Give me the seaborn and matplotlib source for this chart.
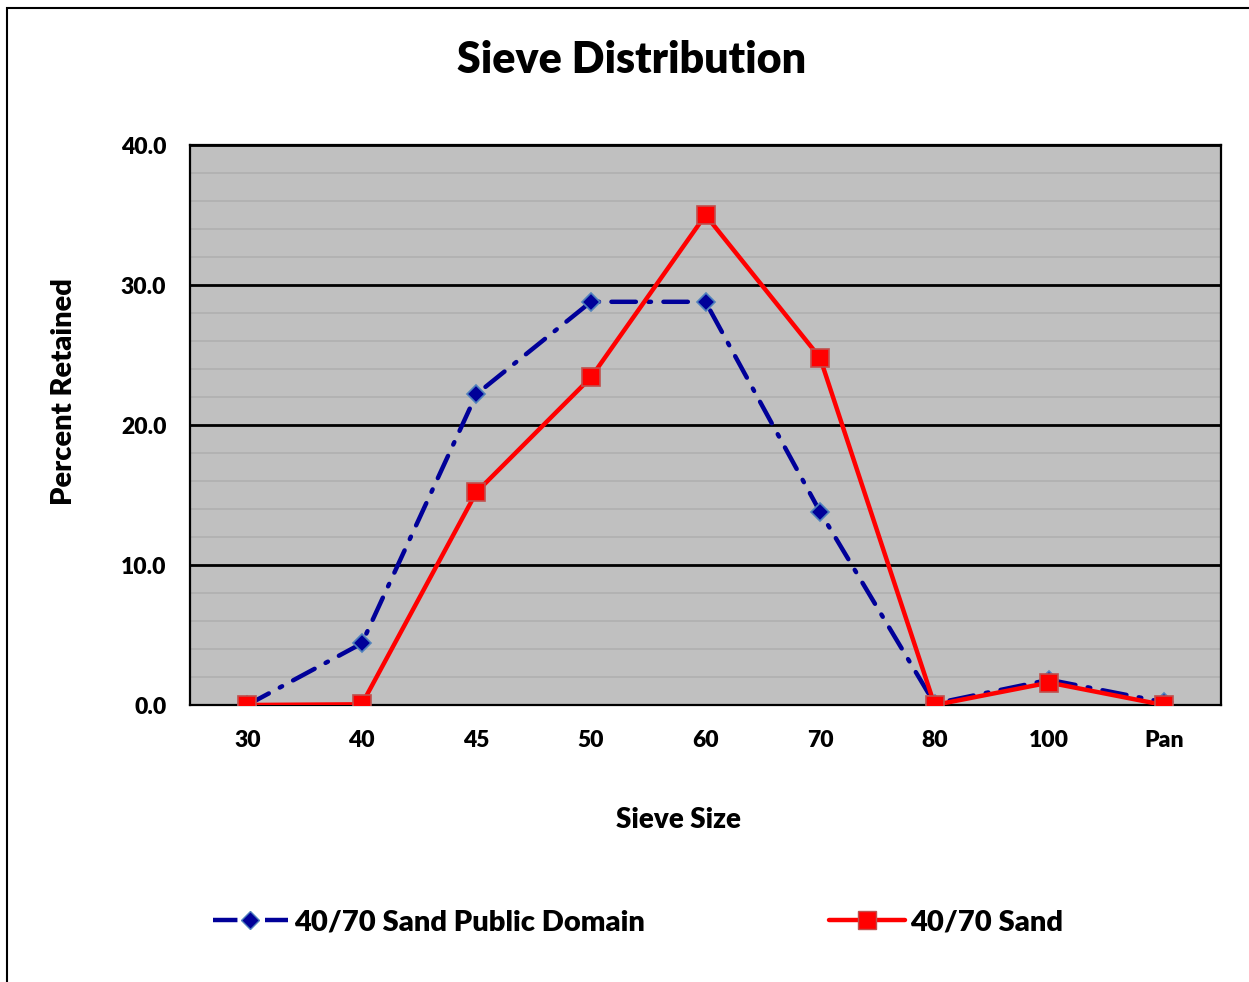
import pandas as pd
import matplotlib.pyplot as plt
import seaborn as sns
from matplotlib.patches import Rectangle
from matplotlib.lines import Line2D

# -------------------------
# Data
# -------------------------
sieve_sizes = ["30", "40", "45", "50", "60", "70", "80", "100", "Pan"]
public_domain = [0.0, 4.4, 22.2, 28.8, 28.8, 13.8, 0.1, 1.8, 0.2]
sand_4070 = [0.0, 0.05, 15.2, 23.4, 35.0, 24.8, 0.0, 1.6, 0.0]
series_names = ["40/70 Sand Public Domain", "40/70 Sand"]

df = pd.DataFrame({
    "sieve": sieve_sizes * 2,
    "pct": public_domain + sand_4070,
    "series": [series_names[0]] * len(sieve_sizes) + [series_names[1]] * len(sieve_sizes),
})

# -------------------------
# Style
# -------------------------
sns.set_style("white")
plt.rcParams["font.family"] = ["Lato", "DejaVu Sans"]
plt.rcParams["font.weight"] = "heavy"
plt.rcParams["text.color"] = "black"
plt.rcParams["xtick.color"] = "black"
plt.rcParams["ytick.color"] = "black"
plt.rcParams["axes.labelcolor"] = "black"
W = "heavy"

fig = plt.figure(figsize=(12.49, 9.82), dpi=100)
ax = fig.add_axes([190 / 1249, 1 - 705 / 982, (1221 - 190) / 1249, (705 - 145) / 982])
ax.set_facecolor("#c0c0c0")

blue = "#000099"
red = "#ff0000"
blue_dash = (0, (5.5, 2.8, 0.6, 2.8))

df_blue = df[df["series"] == series_names[0]]
df_red = df[df["series"] == series_names[1]]

sns.lineplot(data=df_blue, x="sieve", y="pct", ax=ax, color=blue, lw=3.2,
             linestyle=blue_dash, marker="D", markersize=9,
             markerfacecolor=blue, markeredgecolor="#4f81bd", markeredgewidth=1.2,
             sort=False, zorder=3, dash_capstyle="round")
sns.lineplot(data=df_red, x="sieve", y="pct", ax=ax, color=red, lw=3.2,
             marker="s", markersize=13, markerfacecolor=red,
             markeredgecolor="#c0504d", markeredgewidth=1.2,
             sort=False, zorder=4)

# -------------------------
# Axes
# -------------------------
ax.set_xlim(-0.5, len(sieve_sizes) - 0.5)
ax.set_ylim(0, 40)
ax.set_yticks([0, 10, 20, 30, 40])
ax.set_yticklabels([f"{v:.1f}" for v in [0, 10, 20, 30, 40]])
ax.set_yticks(range(0, 41, 2), minor=True)
ax.grid(axis="y", which="minor", color="#b0b0b0", lw=1.2)
ax.grid(axis="y", which="major", color="black", lw=2)
ax.set_axisbelow(True)
ax.tick_params(axis="both", which="both", length=0, labelsize=16.5)
ax.tick_params(axis="x", pad=18)
ax.tick_params(axis="y", pad=17)
for lbl in ax.get_xticklabels() + ax.get_yticklabels():
    lbl.set_fontweight(W)
for sp in ax.spines.values():
    sp.set_color("black")
    sp.set_linewidth(1.6)

ax.set_xlabel("Sieve Size", fontsize=20, fontweight=W)
ax.set_ylabel("Percent Retained", fontsize=21, fontweight=W)
ax.xaxis.set_label_coords((679 - 190) / 1031, -(807 - 705) / 560)
ax.yaxis.set_label_coords(-(190 - 77) / 1031, (705 - 392) / 560)
fig.text(632 / 1249, 1 - 60 / 982, "Sieve Distribution", ha="center", va="center",
         fontsize=31, fontweight=W)

# -------------------------
# Legend
# -------------------------
handles = [
    Line2D([], [], color=blue, lw=3.2, linestyle=blue_dash,
           marker="D", markersize=9, markerfacecolor=blue, markeredgecolor="#4f81bd"),
    Line2D([], [], color=red, lw=3.2, marker="s", markersize=13,
           markerfacecolor=red, markeredgecolor="#c0504d"),
]
fig.legend(handles, series_names, loc="center", bbox_to_anchor=(638 / 1249, 1 - 922 / 982),
           ncol=2, frameon=False, handlelength=2.6, handletextpad=0.2,
           columnspacing=6.3, prop={"weight": W, "size": 21})

# outer chart border
fig.patches.append(Rectangle((7 / 1249, -0.05), 1.1, 1 - 8 / 982 + 0.05,
                             transform=fig.transFigure, fill=False,
                             edgecolor="black", lw=1.5, clip_on=False))

fig.savefig("out.png", dpi=100)
